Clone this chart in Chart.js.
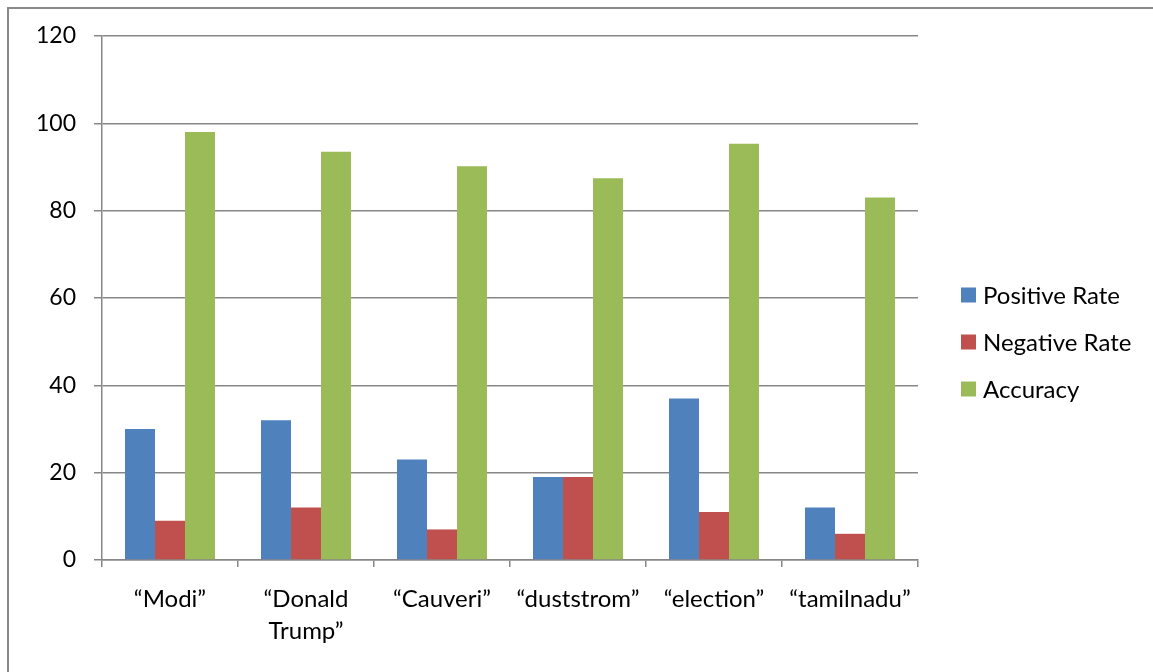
<!DOCTYPE html>
<html>
<head>
<meta charset="utf-8">
<script src="https://cdn.jsdelivr.net/npm/chart.js@4"></script>
<style>
  html, body { margin: 0; padding: 0; background: #ffffff; }
  #wrap { width: 1153px; height: 672px; position: relative; }
  canvas { display: block; }
</style>
</head>
<body>
<div id="wrap"><canvas id="c" width="1153" height="672"></canvas></div>
<script>
// Search keywords shown along the x axis
const categories = [
  '“Modi”',
  ['“Donald', 'Trump”'],
  '“Cauveri”',
  '“duststrom”',
  '“election”',
  '“tamilnadu”'
];

// Series values per keyword
const positiveRate = [30, 32, 23, 19, 37, 12];
const negativeRate = [9, 12, 7, 19, 11, 6];
const accuracy = [98, 93.5, 90.2, 87.4, 95.3, 83];

const seriesNames = ['Positive Rate', 'Negative Rate', 'Accuracy'];
const seriesColors = ['#4F81BD', '#C0504D', '#9BBB59'];

// Value axis ticks
const yMin = 0;
const yMax = 120;
const yStep = 20;

const FONT = 'Lato, "Open Sans", "DejaVu Sans", sans-serif';
const AXIS_GRAY = '#878787';

// White page with the frame on the top and left edges
const framePlugin = {
  id: 'frame',
  beforeDraw(chart) {
    const ctx = chart.ctx;
    ctx.save();
    ctx.fillStyle = '#ffffff';
    ctx.fillRect(0, 0, chart.width, chart.height);
    ctx.strokeStyle = '#8a8a8a';
    ctx.lineWidth = 2;
    ctx.beginPath();
    ctx.moveTo(8, chart.height + 5);
    ctx.lineTo(8, 8);
    ctx.lineTo(chart.width + 5, 8);
    ctx.stroke();
    ctx.restore();
  }
};

// Legend stacked at the right of the plot
const sideLegend = {
  id: 'sideLegend',
  afterDraw(chart) {
    const ctx = chart.ctx;
    ctx.save();
    ctx.font = '24px ' + FONT;
    ctx.textBaseline = 'middle';
    ctx.textAlign = 'left';
    const x0 = 961;
    const yStart = 295;
    const gap = 47;
    chart.data.datasets.forEach((ds, i) => {
      const cy = yStart + i * gap;
      ctx.fillStyle = ds.backgroundColor;
      ctx.fillRect(x0, cy - 7.5, 15, 15);
      ctx.fillStyle = '#000000';
      ctx.fillText(ds.label, x0 + 22, cy + 1);
    });
    ctx.restore();
  }
};

const datasets = [positiveRate, negativeRate, accuracy].map((values, i) => ({
  label: seriesNames[i],
  data: values,
  backgroundColor: seriesColors[i],
  borderWidth: 0,
  categoryPercentage: 0.662,
  barPercentage: 1.0
}));

new Chart(document.getElementById('c'), {
  type: 'bar',
  data: { labels: categories, datasets: datasets },
  options: {
    responsive: false,
    animation: false,
    devicePixelRatio: 1,
    layout: { padding: { left: 0, top: 36, right: 235, bottom: 0 } },
    plugins: {
      legend: { display: false },
      tooltip: { enabled: false }
    },
    scales: {
      x: {
        grid: {
          display: true,
          drawOnChartArea: false,
          drawTicks: true,
          tickLength: 7,
          offset: true,
          color: AXIS_GRAY,
          lineWidth: 1.5
        },
        border: { display: true, color: AXIS_GRAY, width: 1.5 },
        ticks: {
          color: '#000000',
          font: { family: FONT, size: 24, lineHeight: 1.3 },
          padding: 17,
          maxRotation: 0,
          autoSkip: false
        },
        afterFit(scale) { scale.height = 112; }
      },
      y: {
        min: yMin,
        max: yMax,
        ticks: {
          stepSize: yStep,
          color: '#000000',
          font: { family: FONT, size: 23 },
          padding: 18
        },
        grid: {
          color: AXIS_GRAY,
          lineWidth: 1.5,
          drawTicks: true,
          tickLength: 8
        },
        border: { display: true, color: AXIS_GRAY, width: 1.5 },
        afterFit(scale) { scale.width = 102; }
      }
    }
  },
  plugins: [framePlugin, sideLegend]
});
</script>
</body>
</html>
